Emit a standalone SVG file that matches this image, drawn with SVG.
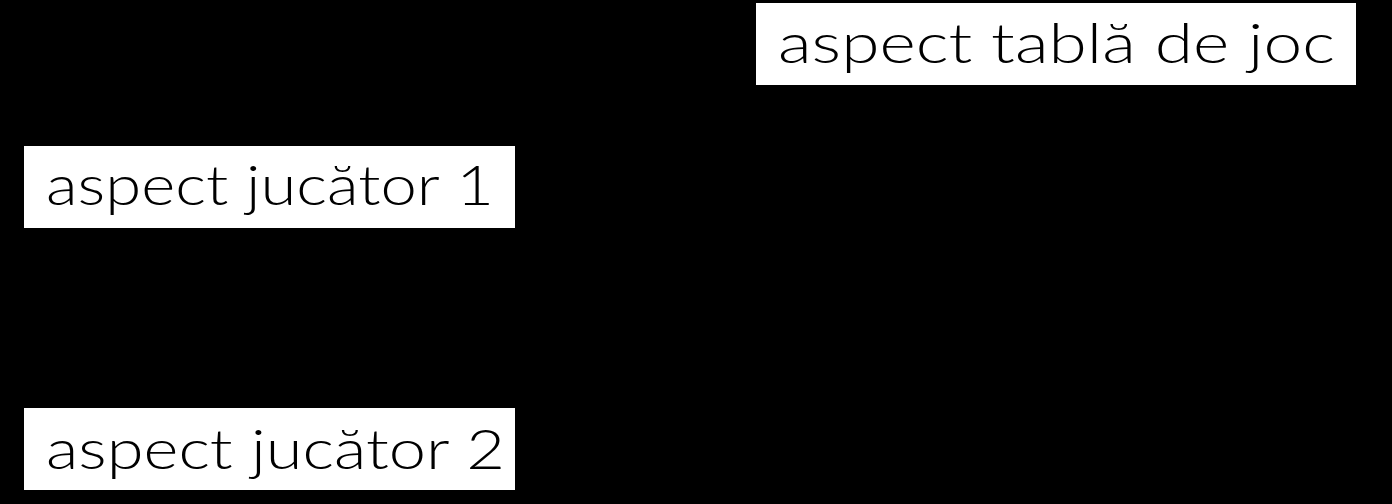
<svg xmlns="http://www.w3.org/2000/svg" width="1392" height="504" viewBox="0 0 1392 504">
<style>
.box{fill:#fff}
.lbl{font-family:"Lato","Open Sans","Liberation Sans",sans-serif;font-weight:300;font-size:56px;fill:#000}
</style>
<rect x="0" y="0" width="1392" height="504" fill="#000"/>
<g id="node-tabla">
<rect class="box" x="756" y="3" width="600" height="82"/>
<text class="lbl" x="778" y="63" textLength="557" lengthAdjust="spacingAndGlyphs">aspect tablă de joc</text>
</g>
<g id="node-jucator1">
<rect class="box" x="24" y="146" width="491" height="82"/>
<text class="lbl" x="46" y="205" textLength="448" lengthAdjust="spacingAndGlyphs">aspect jucător 1</text>
</g>
<g id="node-jucator2">
<rect class="box" x="24" y="408" width="491" height="82"/>
<text class="lbl" x="46" y="469" textLength="459" lengthAdjust="spacingAndGlyphs">aspect jucător 2</text>
</g>
<g id="connectors"></g>
</svg>
